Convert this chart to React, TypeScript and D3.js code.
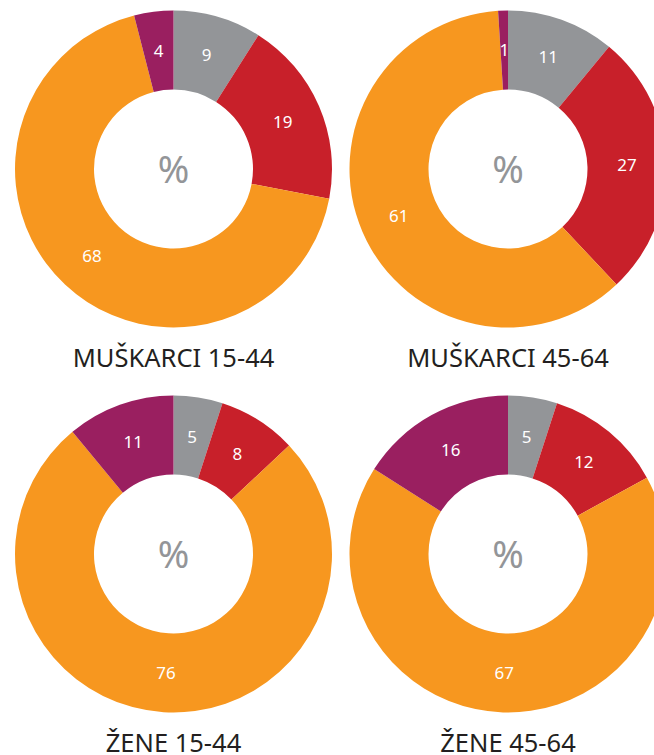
import React from "react";
import { pie, arc, scaleOrdinal } from "d3";

// donut charts, shares in %

const categories = ["siva", "crvena", "narančasta", "ljubičasta"];
const colors = ["#939598", "#c8202a", "#f7971f", "#9a1f60"];

const muski1544 = [9, 19, 68, 4];
const muski4564 = [11, 27, 61, 1];
const zene1544 = [5, 8, 76, 11];
const zene4564 = [5, 12, 67, 16];

const titles = ["MUŠKARCI 15-44", "MUŠKARCI 45-64", "ŽENE 15-44", "ŽENE 45-64"];
const groups = [muski1544, muski4564, zene1544, zene4564];

const W = 654;
const H = 755;
const outerR = 158.5;
const innerR = 79.5;
const centers = [
  [173.5, 169],
  [508, 169],
  [173.5, 554],
  [508, 554],
];

const color = scaleOrdinal<string, string>().domain(categories).range(colors);

function Donut({ values, cx, cy, title }: { values: number[]; cx: number; cy: number; title: string }) {
  const rows = values.map((v, i) => ({ key: categories[i], value: v }));
  const slices = pie<{ key: string; value: number }>()
    .value(d => d.value)
    .sort(null)(rows);
  const path = arc<any>().innerRadius(innerR).outerRadius(outerR);

  return (
    <g transform={`translate(${cx},${cy})`}>
      {slices.map(s => (
        <path key={s.data.key} d={path(s) || ""} fill={color(s.data.key)} />
      ))}
      {slices.map(s => {
        const [x, y] = path.centroid(s);
        return (
          <text
            key={"l" + s.data.key}
            x={x}
            y={y}
            dy="0.36em"
            textAnchor="middle"
            fill="#fff"
            fontSize={17}
          >
            {s.data.value}
          </text>
        );
      })}
      <text y={0} dy="0.36em" textAnchor="middle" fill="#939598" fontSize={38}>
        %
      </text>
      <text y={198} textAnchor="middle" fill="#231f20" fontSize={25.5}>
        {title}
      </text>
    </g>
  );
}

export default function App() {
  return (
    <svg
      width={W}
      height={H}
      style={{ position: "absolute", left: 0, top: 0, fontFamily: "'Noto Sans', sans-serif" }}
    >
      <rect width={W} height={H} fill="#fff" />
      {groups.map((g, i) => (
        <Donut key={titles[i]} values={g} cx={centers[i][0]} cy={centers[i][1]} title={titles[i]} />
      ))}
    </svg>
  );
}
